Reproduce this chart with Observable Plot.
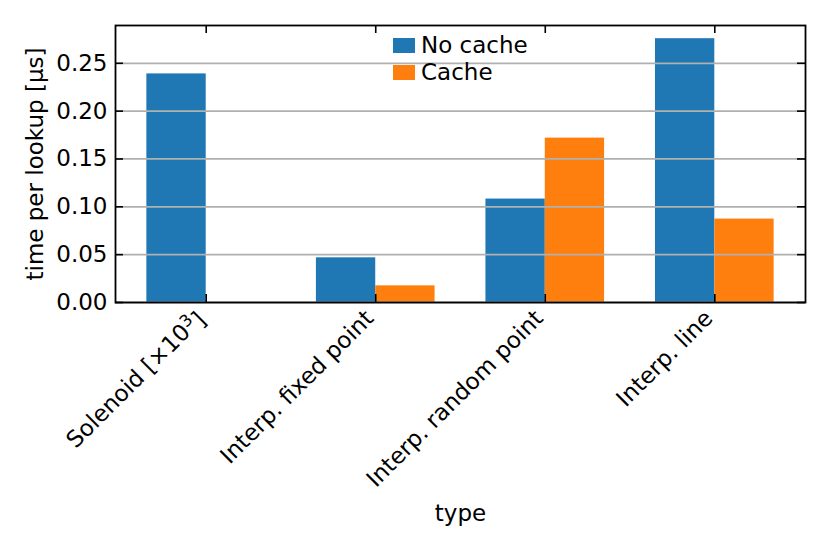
<!DOCTYPE html>
<html>
<head>
<meta charset="utf-8">
<script src="https://cdn.jsdelivr.net/npm/d3@7"></script>
<script src="https://cdn.jsdelivr.net/npm/@observablehq/plot@0.6"></script>
<style>
  body { margin: 0; background: #fff; }
  svg { font-family: "DejaVu Sans", sans-serif; }
</style>
</head>
<body>
<div id="chart"></div>
<script>
const categories = ["Solenoid [×10³]", "Interp. fixed point", "Interp. random point", "Interp. line"];
const noCache = [0.2389, 0.0467, 0.1081, 0.2757];
const cache = [null, 0.0174, 0.1718, 0.0872];
const series = ["No cache", "Cache"];
const colors = ["#1f77b4", "#ff7f0e"];
const yTicks = [0, 0.05, 0.10, 0.15, 0.20, 0.25];
const xTicks = [0, 1, 2, 3];

const barWidth = 0.35;
const rows = [];
categories.forEach((c, i) => {
  if (noCache[i] != null) rows.push({i, s: series[0], v: noCache[i], x1: i - barWidth, x2: i});
  if (cache[i] != null) rows.push({i, s: series[1], v: cache[i], x1: i, x2: i + barWidth});
});

const W = 830, H = 554, mL = 115, mR = 25, mT = 25, mB = 252;
const fw = W - mL - mR, fh = H - mT - mB;
const ymax = d3.max(rows, d => d.v) * 1.05;
const xPad = (3 + 2 * barWidth) * 0.05;
const tickLen = 8;
const fs = 23;

const chart = Plot.plot({
  width: W, height: H,
  marginLeft: mL, marginRight: mR, marginTop: mT, marginBottom: mB,
  style: {fontFamily: "DejaVu Sans, sans-serif", fontSize: fs + "px", color: "#000", background: "#fff"},
  x: {type: "linear", domain: [-barWidth - xPad, 3 + barWidth + xPad]},
  y: {domain: [0, ymax]},
  color: {domain: series, range: colors},
  marks: [
    Plot.rectY(rows, {x1: "x1", x2: "x2", y1: 0, y2: "v", fill: "s"}),
    Plot.ruleY(yTicks, {stroke: "#b0b0b0", strokeWidth: 1.8}),
    Plot.tickY(yTicks, {insetRight: fw - tickLen, strokeWidth: 1.6}),
    Plot.tickY(yTicks, {insetLeft: fw - tickLen, strokeWidth: 1.6}),
    Plot.tickX(xTicks, {insetTop: fh - tickLen, strokeWidth: 1.6}),
    Plot.tickX(xTicks, {insetBottom: fh - tickLen, strokeWidth: 1.6}),
    Plot.frame({stroke: "#000", strokeWidth: 1.8}),
    Plot.axisY(yTicks, {tickSize: 0, tickPadding: 8, tickFormat: d3.format(".2f"), fontSize: fs,
      label: "time per lookup [µs]", labelAnchor: "center", labelArrow: "none", labelOffset: 89}),
    Plot.axisX(xTicks, {tickSize: 0, tickPadding: 6, tickRotate: -45, tickFormat: i => categories[i], fontSize: fs,
      dx: -6, dy: 6, label: null}),
    Plot.text(["type"], {frameAnchor: "bottom", x: 1.5, dy: 218, fontSize: fs, lineAnchor: "bottom"})
  ]
});
document.getElementById("chart").appendChild(chart);

const svg = d3.select(chart);
// render the superscript like matplotlib mathtext
svg.selectAll("text").each(function() {
  const t = d3.select(this);
  if (t.text() === categories[0]) {
    t.text(null);
    t.append("tspan").text("Solenoid [×10");
    t.append("tspan").attr("dy", "-0.45em").attr("font-size", "0.72em").text("3");
    t.append("tspan").attr("dy", "0.45em").text("]");
  }
});

// legend (no frame), top center of the axes
const lg = svg.append("g").attr("font-size", fs).attr("text-anchor", "start");
series.forEach((s, k) => {
  const y0 = 38 + k * 27;
  lg.append("rect").attr("x", 393).attr("y", y0).attr("width", 22).attr("height", 15).attr("fill", colors[k]);
  lg.append("text").attr("x", 421).attr("y", y0 + 15).text(s);
});
</script>
</body>
</html>
